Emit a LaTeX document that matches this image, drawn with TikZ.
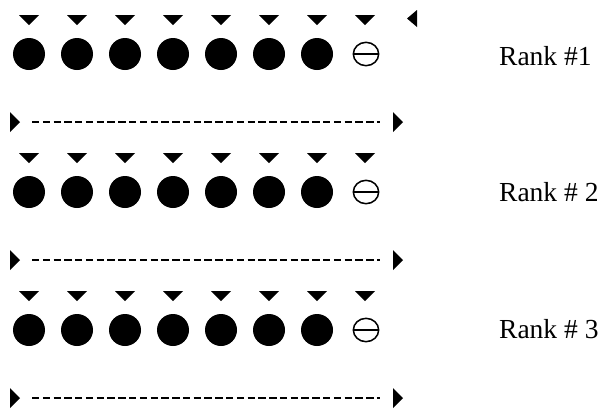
\documentclass[tikz,border=0pt]{standalone}
\usepackage{fontspec}
\setmainfont{Liberation Serif}
\begin{document}
\begin{tikzpicture}[x=0.03cm, y=-0.03cm,
        ranktext/.style={anchor=base west, font=\fontsize{23.5}{28}\selectfont},
        rankline/.style={line width=2.2pt, dash pattern=on 6.3pt off 2.9pt}]
        \useasboundingbox (0,0) rectangle (611,412);
        \foreach \yc in {54,192,330} {
        \foreach \i in {0,...,6}
        \fill (29+48*\i, \yc) circle (0.48cm);
        \draw[line width = 1.3pt] (366, \yc) ellipse (0.38cm and 0.35cm);
        \draw[line width = 1.3pt] (354, \yc) -- (378, \yc);
        \foreach \i in {0,...,7}
        \fill (19+48*\i, \yc-39) -- (39+48*\i, \yc-39) -- (29+48*\i, \yc-29) -- cycle;
        \draw[rankline] (32, \yc+68) -- (380, \yc+68);
        \fill (10, \yc+58) -- (20, \yc+68) -- (10, \yc+78) -- cycle;
        \fill (393, \yc+58) -- (403, \yc+68) -- (393, \yc+78) -- cycle;
        }
        \fill (417, 10) -- (407, 18.5) -- (417, 27) -- cycle;
        \node[ranktext] (rank1) at (495, 65) {Rank \#1};
        \node[ranktext] (rank2) at (495, 201) {Rank \# 2};
        \node[ranktext] (rank3) at (495, 338) {Rank \# 3};
        \end{tikzpicture}
\end{document}
